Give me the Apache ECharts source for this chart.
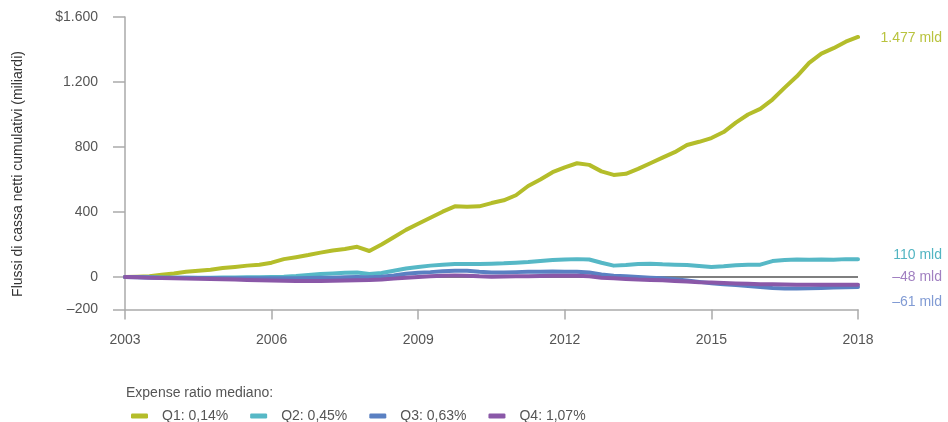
<!DOCTYPE html>
<html>
<head>
<meta charset="utf-8">
<script src="https://cdn.jsdelivr.net/npm/echarts@6/dist/echarts.min.js"></script>
<style>
  html, body { margin: 0; padding: 0; background: #fff; }
  #chart { width: 948px; height: 422px; }
</style>
</head>
<body>
<div id="chart"></div>
<script>
// Quarterly periods, 2003 T1 .. 2018 T1
const periods = [];
for (let y = 2003; y <= 2017; y++) {
  for (let q = 1; q <= 4; q++) periods.push(y + ' T' + q);
}
periods.push('2018 T1');

// Cumulative net cash flows (billions USD) by expense-ratio quartile
const q1Values = [
  0, 2, 5, 14,
  22, 32, 38, 45,
  55, 62, 70, 76,
  88, 110, 122, 135,
  150, 163, 172, 186,
  160, 200, 245, 290,
  328, 365, 402, 435,
  432, 435, 455, 472,
  503, 560, 600, 645,
  675, 700, 690, 650,
  628, 635, 665, 700,
  735, 768, 812, 832,
  855, 892, 950, 1000,
  1035, 1092, 1165, 1235,
  1318, 1375, 1408, 1448,
  1477
];
const q2Values = [
  0, 0, -2, -3,
  -4, -4, -5, -4,
  -3, -3, -2, -1,
  0, 2, 6, 12,
  18, 22, 26, 28,
  18, 25, 38, 52,
  62, 70, 76, 80,
  80, 80, 82, 84,
  88, 92, 98, 104,
  108, 110, 108, 88,
  70, 74, 80, 82,
  78, 76, 74, 68,
  62, 66, 72, 76,
  76, 98, 104, 108,
  106, 108, 106, 110,
  110
];
const q3Values = [
  0, -2, -3, -4,
  -5, -5, -6, -6,
  -7, -7, -8, -8,
  -8, -8, -7, -6,
  -5, -4, -2, 0,
  -2, 2, 10, 20,
  26, 30, 36, 38,
  38, 32, 28, 28,
  30, 32, 33, 34,
  33, 33, 28, 16,
  8, 4, 0, -4,
  -8, -14, -22, -30,
  -38, -44, -50, -56,
  -62, -68, -71, -71,
  -70, -68, -65, -63,
  -61
];
const q4Values = [
  0, -2, -4, -6,
  -8, -10, -11, -13,
  -14, -16, -18, -20,
  -22, -23, -24, -24,
  -24, -23, -22, -20,
  -19, -16, -10, -4,
  0, 4, 8, 10,
  8, 4, 2, 3,
  4, 5, 6, 8,
  8, 7, 4, -4,
  -8, -12, -16, -18,
  -20, -24, -28, -32,
  -34, -37, -40, -42,
  -44, -45, -46, -47,
  -47, -47, -48, -48,
  -48
];

const seriesNames = ['Q1: 0,14%', 'Q2: 0,45%', 'Q3: 0,63%', 'Q4: 1,07%'];
const yTickValues = [-200, 0, 400, 800, 1200, 1600];

const lineColors = ['#b4bd2a', '#56b8c6', '#5a80c2', '#8a58a8'];
const labelColors = ['#b9c33e', '#52b5c2', '#819bd4', '#a180c1'];
const endLabelOffsets = [[84, 1], [84, -4], [84, 15], [84, -8]];

// Italian number formatting: dot as thousands separator, en dash for minus
function fmtNum(v) {
  const s = Math.abs(v).toString().replace(/\B(?=(\d{3})+(?!\d))/g, '.');
  return (v < 0 ? '\u2013' : '') + s;
}

const FONT = "'Liberation Sans', Arial, sans-serif";
const chart = echarts.init(document.getElementById('chart'), null, { renderer: 'canvas' });

const dataSets = [q1Values, q2Values, q3Values, q4Values];
const lineSeries = dataSets.map((vals, i) => ({
  name: seriesNames[i],
  type: 'line',
  data: vals,
  showSymbol: false,
  z: 3,
  lineStyle: { color: lineColors[i], width: 4, cap: 'round', join: 'round' },
  itemStyle: { color: lineColors[i] },
  endLabel: {
    show: true,
    distance: 0,
    align: 'right',
    verticalAlign: 'middle',
    offset: endLabelOffsets[i],
    fontFamily: FONT,
    fontSize: 14,
    color: labelColors[i],
    formatter: p => fmtNum(p.value) + ' mld'
  },
  emphasis: { disabled: true }
}));

// zero reference line, drawn beneath the quartile lines
lineSeries.unshift({
  name: 'zero',
  type: 'line',
  data: [],
  z: 1,
  silent: true,
  markLine: {
    z: 1,
    silent: true,
    symbol: 'none',
    label: { show: false },
    lineStyle: { color: '#555', width: 1.5, type: 'solid' },
    data: [{ yAxis: 0 }]
  }
});

chart.setOption({
  animation: false,
  backgroundColor: '#fff',
  grid: { left: 125, right: 90, top: 17, bottom: 112.5, containLabel: false },
  xAxis: {
    type: 'category',
    data: periods,
    boundaryGap: false,
    axisLine: { show: true, onZero: false, lineStyle: { color: '#aaa', width: 1.5 } },
    axisTick: { show: true, interval: 11, length: 10, lineStyle: { color: '#aaa', width: 1.5 } },
    axisLabel: {
      interval: 11,
      margin: 24,
      fontFamily: FONT,
      fontSize: 14,
      color: '#555',
      formatter: v => v.slice(0, 4)
    },
    splitLine: { show: false }
  },
  yAxis: {
    type: 'value',
    min: -200,
    max: 1600,
    axisLine: { show: true, onZero: false, lineStyle: { color: '#aaa', width: 1.5 } },
    axisTick: { show: true, length: 12, customValues: yTickValues, lineStyle: { color: '#aaa', width: 1.5 } },
    axisLabel: {
      customValues: yTickValues,
      margin: 27,
      fontFamily: FONT,
      fontSize: 14,
      color: '#555',
      formatter: v => (v === 1600 ? '$' : '') + fmtNum(v)
    },
    splitLine: { show: false }
  },
  legend: {
    data: seriesNames,
    left: 126,
    top: 404,
    itemWidth: 17,
    itemHeight: 5,
    itemGap: 22,
    icon: 'roundRect',
    selectedMode: false,
    textStyle: { fontFamily: FONT, fontSize: 14, color: '#555', padding: [0, 0, 0, 9] }
  },
  graphic: [
    {
      type: 'text',
      x: 18,
      y: 174,
      rotation: Math.PI / 2,
      style: {
        text: 'Flussi di cassa netti cumulativi (miliardi)',
        fontFamily: FONT,
        fontSize: 14,
        fill: '#333',
        align: 'center',
        verticalAlign: 'middle'
      }
    },
    {
      type: 'text',
      left: 126,
      top: 386,
      style: {
        text: 'Expense ratio mediano:',
        fontFamily: FONT,
        fontSize: 14,
        fill: '#555'
      }
    }
  ],
  series: lineSeries
});
</script>
</body>
</html>
